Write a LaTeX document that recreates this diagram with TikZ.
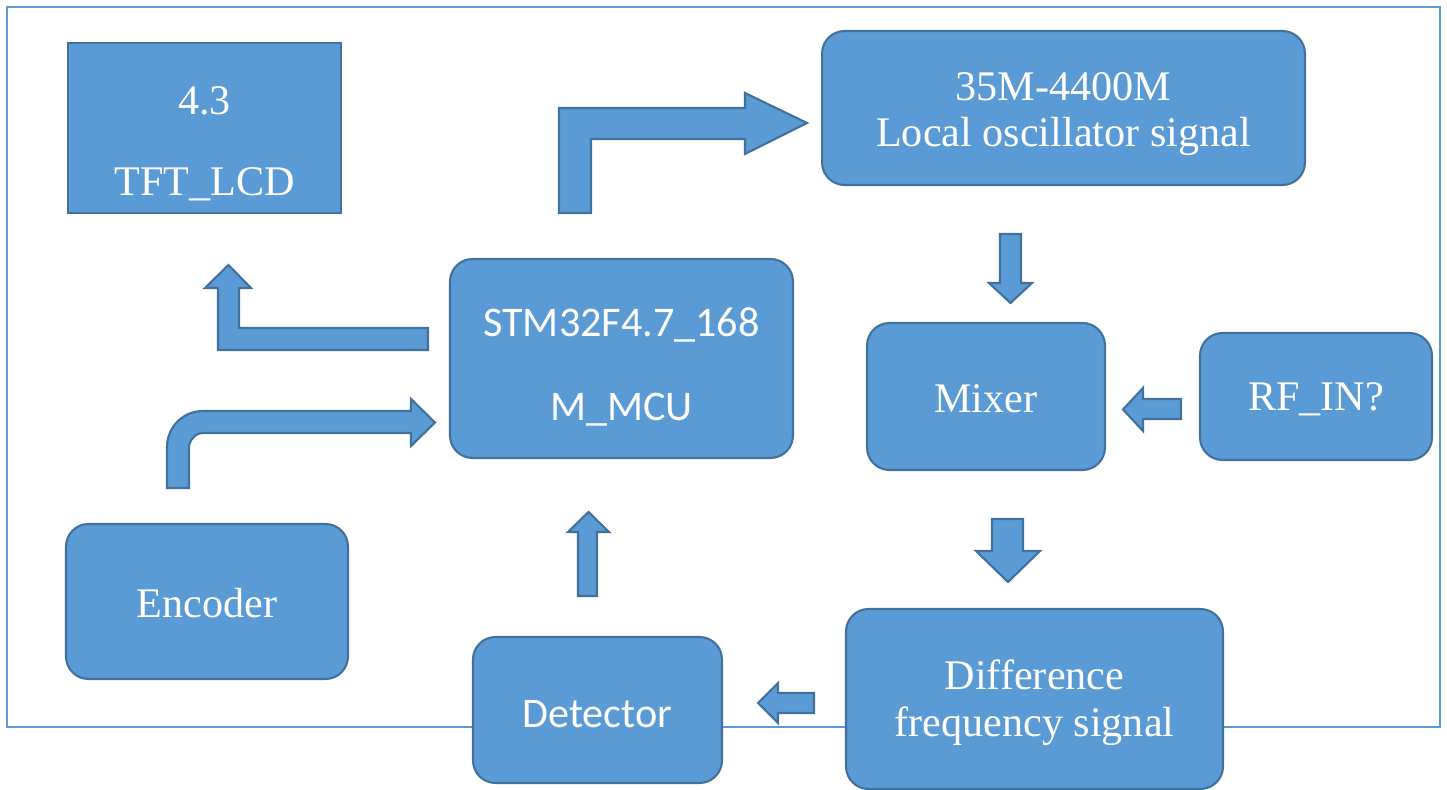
\documentclass[tikz,border=0pt]{standalone}
\usepackage{fontspec}
\setmainfont{Liberation Serif}
\setsansfont{Carlito}
\definecolor{boxfill}{HTML}{5B9BD5}
\definecolor{boxline}{HTML}{41719C}
\definecolor{framecol}{HTML}{5B9BD5}
\begin{document}
\begin{tikzpicture}[x=0.02cm,y=-0.02cm]
		\tikzstyle{every node}=[draw=boxline,fill=boxfill,line width=1.2pt,text=white,align=center,inner sep=0pt,font=\fontsize{24}{26.5}\selectfont];
		\tikzstyle{rbox}=[rounded corners=0.45cm];
		\tikzstyle{sans}=[font=\sffamily\fontsize{24}{26.5}\selectfont];
		\tikzstyle{blk}=[draw=boxline,fill=boxfill,line width=1.2pt,line join=miter];
		\useasboundingbox (0,0) rectangle (1447,790);
		\draw[framecol,line width=1.6pt] (7,7) rectangle (1440,727);
		
		\node[minimum width=5.46cm,minimum height=3.4cm] (lcd) at (204.5,128) {\rule{0pt}{34pt}4.3\\[20pt]TFT\_LCD};
		\node[rbox,minimum width=9.66cm,minimum height=3.08cm] (lo) at (1063.5,108) {\rule{0pt}{23pt}35M-4400M\\Local oscillator signal};
		\node[rbox,sans,minimum width=6.86cm,minimum height=3.98cm] (mcu) at (621.5,358.5) {\rule{0pt}{26pt}STM32F4.7\_168\\[21pt]M\_MCU};
		\node[rbox,minimum width=4.76cm,minimum height=2.94cm] (mixer) at (986,396.5) {\rule{0pt}{18pt}Mixer};
		\node[rbox,minimum width=4.64cm,minimum height=2.54cm] (rfin) at (1316,396.5) {\rule{0pt}{19pt}RF\_IN?};
		\node[rbox,minimum width=5.64cm,minimum height=3.1cm] (enc) at (207,601.5) {\rule{0pt}{19pt}Encoder};
		\node[rbox,sans,minimum width=4.98cm,minimum height=2.92cm] (det) at (597.5,710) {\rule{0pt}{20pt}Detector};
		\node[rbox,minimum width=7.54cm,minimum height=3.6cm] (diff) at (1034.5,699) {\rule{0pt}{21pt}Difference\\frequency signal};
		
		% mcu -> lo
		\draw[blk] (559,213) -- (559,108) -- (745,108) -- (745,93) -- (807,123) -- (745,154) -- (745,139) -- (591,139) -- (591,213) -- cycle;
		% mcu -> lcd
		\draw[blk] (428,350) -- (218,350) -- (218,288) -- (205,288) -- (228.5,265) -- (251,288) -- (239,288) -- (239,328) -- (428,328) -- cycle;
		% enc -> mcu
		\draw[blk] (167,488) -- (167,447) .. controls (167,427.1) and (183.1,411) .. (203,411) -- (411,411) -- (411,399) -- (435,422.5) -- (411,446) -- (411,433) -- (203,433) .. controls (195.3,433) and (189,440.7) .. (189,447) -- (189,488) -- cycle;
		% lo -> mixer
		\draw[blk] (1000,234) -- (1021,234) -- (1021,283) -- (1032,283) -- (1010.5,303) -- (989,283) -- (1000,283) -- cycle;
		% rfin -> mixer
		\draw[blk] (1181,399) -- (1181,419) -- (1143,419) -- (1143,431) -- (1123,409.5) -- (1143,388) -- (1143,399) -- cycle;
		% mixer -> diff
		\draw[blk] (992,519) -- (1023,519) -- (1023,551) -- (1040,551) -- (1008,582) -- (976,551) -- (992,551) -- cycle;
		% diff -> det
		\draw[blk] (814,693) -- (814,713) -- (778,713) -- (778,723) -- (758,703) -- (778,683) -- (778,693) -- cycle;
		% det -> mcu
		\draw[blk] (578,596) -- (578,532) -- (568,532) -- (588.5,512) -- (609,532) -- (597,532) -- (597,596) -- cycle;
	\end{tikzpicture}
\end{document}
